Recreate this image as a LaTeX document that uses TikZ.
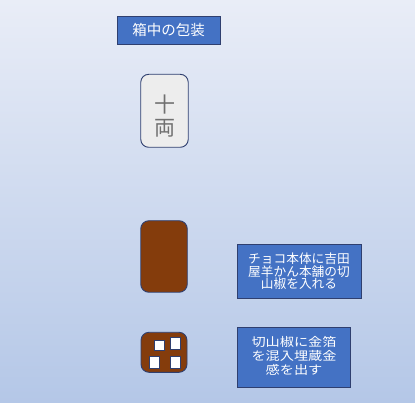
\documentclass[tikz,border=0pt]{standalone}
\usepackage{fontspec}
\newfontfamily\jp{Noto Sans CJK JP}
\definecolor{bgtop}{HTML}{E9EDF7}
\definecolor{bgbot}{HTML}{B4C7E7}
\definecolor{boxblue}{HTML}{4472C4}
\definecolor{navy}{HTML}{2F3F6F}
\definecolor{choco}{HTML}{843C0C}
\definecolor{tilegray}{HTML}{EDEDED}
\definecolor{textgray}{HTML}{707070}
\tikzset{
  labelbox/.style={draw=navy, line width=0.9pt, fill=boxblue, text=white, inner sep=0pt, align=center, font=\jp\fontsize{12.7}{12.6}\selectfont},
  tile/.style={draw=navy, line width=0.9pt, rounded corners=8pt, inner sep=0pt},
  piece/.style={draw=navy, line width=0.9pt, fill=white, inner sep=0pt, minimum width=10pt}
}
\begin{document}
\begin{tikzpicture}[x=1pt,y=-1pt]
\shade[top color=bgtop, bottom color=bgbot] (0,0) rectangle (415,403);
\useasboundingbox (0,0) rectangle (415,403);
\node[labelbox, minimum width=103pt, minimum height=28pt, font=\jp\fontsize{14.5}{16}\selectfont] (title) at (168.5,30) {箱中の包装};
\node[tile, fill=tilegray, minimum width=47.5pt, minimum height=73pt,
  label={[text=textgray, font=\jp\fontsize{21}{23}\selectfont, align=center, inner sep=0pt, yshift=-5.5pt]center:十\\両}] (tile1) at (164.5,110.8) {};
\node[tile, fill=choco, minimum width=46.5pt, minimum height=71.5pt] (tile2) at (164,256.5) {};
\node[labelbox, minimum width=124pt, minimum height=54pt] (box2) at (299,271.3) {チョコ本体に吉田\\屋羊かん本舗の切\\山椒を入れる};
\node[tile, fill=choco, minimum width=46pt, minimum height=40pt] (tile3) at (164,352.3) {};
\node[piece, minimum height=10pt] (sq1) at (159.3,345.7) {};
\node[piece, minimum height=11.5pt] (sq2) at (175.3,343.5) {};
\node[piece, minimum height=11.5pt] (sq3) at (154.3,362.5) {};
\node[piece, minimum height=12pt] (sq4) at (175.3,362.2) {};
\node[labelbox, minimum width=113.5pt, minimum height=60pt] (box3) at (294,357.3) {\scalebox{1.18}[1]{\jp\fontsize{12}{12}\selectfont\begin{tabular}{@{}c@{}}切山椒に金箔\\を混入埋蔵金\\感を出す\end{tabular}}};
\end{tikzpicture}
\end{document}
